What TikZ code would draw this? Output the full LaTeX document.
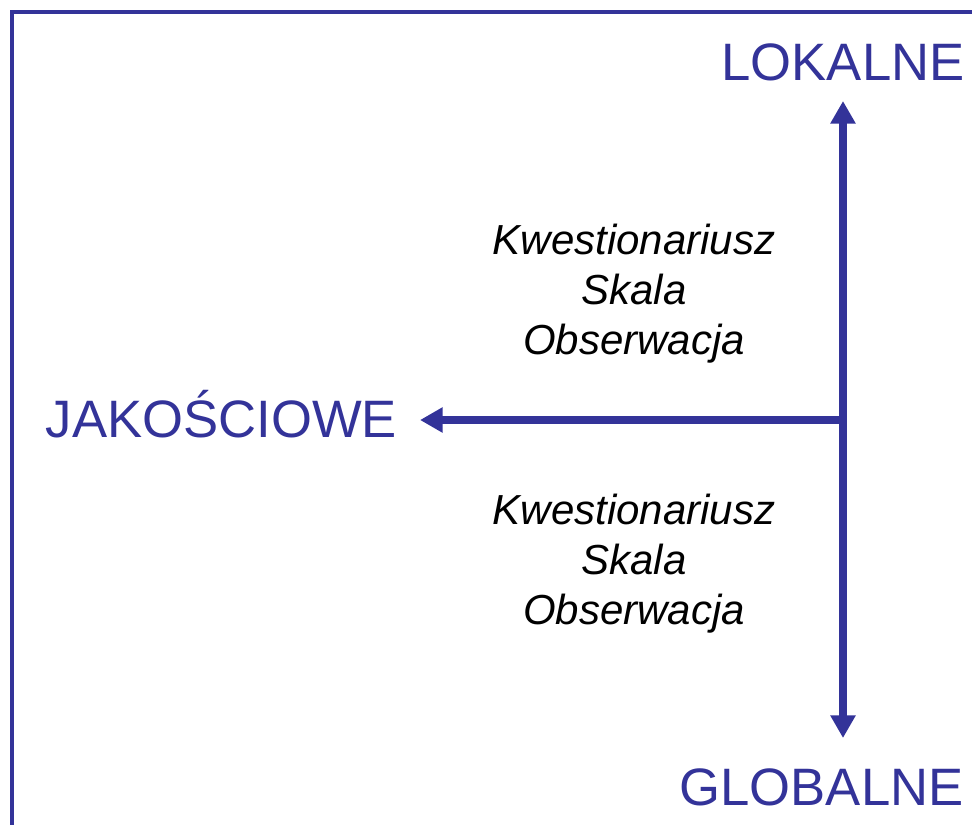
\documentclass[tikz,border=0pt]{standalone}
\usepackage{fontspec}
\setmainfont{Liberation Sans}
\usetikzlibrary{arrows.meta}

\definecolor{axisblue}{HTML}{333399}

\begin{document}
\begin{tikzpicture}[x=0.75pt, y=-0.75pt,
        axis/.style={draw=axisblue, line width=5.7pt,
            -{Triangle[length=17pt, width=18pt]}},
        pole/.style={text=axisblue, inner sep=0pt, anchor=base,
            font=\fontsize{39.5}{45}\selectfont},
        tools/.style={text=black, inner sep=0pt, anchor=base, align=center,
            font=\fontsize{31.5}{37.5}\selectfont\itshape}]

            \useasboundingbox (0, 0) rectangle (972, 825);

            % Frame (runs off the right and bottom edge)
            \draw [axisblue, line width=2.6pt] (12, 840) -- (12, 12) -- (990, 12);

            % Axes
            %% Meeting point and tips
            \coordinate (hub) at (843, 420);
            \coordinate (topTip) at (843, 101);
            \coordinate (bottomTip) at (843, 738);
            \coordinate (leftTip) at (420, 420);

            %% Arrows
            \draw [axis] (hub) -- (topTip);
            \draw [axis] (hub) -- (bottomTip);
            \draw [axis] (hub) -- (leftTip);

            % Pole labels
            \node (lokalne) at (843, 80) [pole] {LOKALNE};
            \node (globalne) at (821.5, 805) [pole] {GLOBALNE};
            \node (jakosciowe) at (221.5, 437) [pole] {JAKOŚCIOWE};

            % Tools (base anchor sits on the last line)
            %% Upper half
            \node (upperTools) at (634, 354) [tools] {Kwestionariusz\\Skala\\Obserwacja};

            %% Lower half
            \node (lowerTools) at (634, 624) [tools] {Kwestionariusz\\Skala\\Obserwacja};
        \end{tikzpicture}
\end{document}
